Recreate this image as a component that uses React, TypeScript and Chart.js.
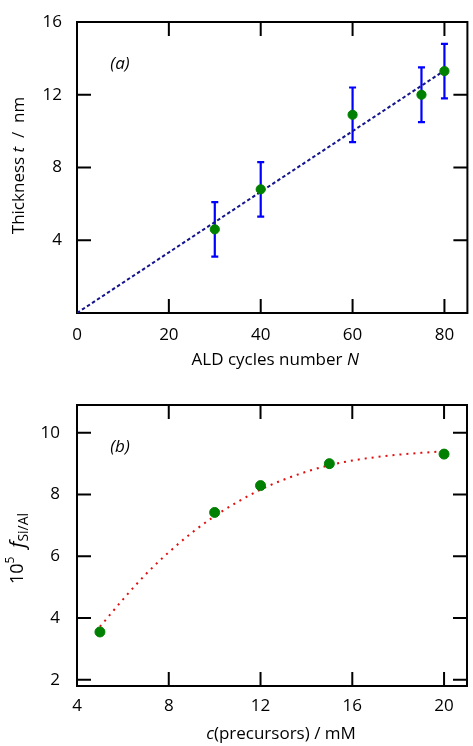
import { useEffect, useRef } from 'react';
import { Chart, registerables } from 'chart.js';

Chart.register(...registerables);

const FAMILY = '"Open Sans", "DejaVu Sans", sans-serif';

// ---------- Panel (a): thickness vs ALD cycles ----------
const cyclesN = [30, 40, 60, 75, 80];
const thickness = [4.6, 6.8, 10.9, 12.0, 13.3];
const thicknessErr = [1.5, 1.5, 1.5, 1.5, 1.5];
const fitAX = [0, 80];
const fitAY = [0, 13.33];
const ticksAX = [0, 20, 40, 60, 80];
const ticksAY = [4, 8, 12, 16];

// ---------- Panel (b): f(Si/Al) vs precursor concentration ----------
const conc = [5, 10, 12, 15, 20];
const ratio = [3.55, 7.42, 8.29, 9.0, 9.31];
const fitBX = [5, 6, 7, 8, 9, 10, 11, 12, 13, 14, 15, 16, 17, 18, 19, 20];
const fitBY = [3.72, 4.6, 5.42, 6.13, 6.76, 7.3, 7.76, 8.16, 8.48, 8.74, 8.95, 9.1, 9.21, 9.29, 9.35, 9.4];
const ticksBX = [4, 8, 12, 16, 20];
const ticksBY = [2, 4, 6, 8, 10];

type Seg = { t: string; italic?: boolean; size?: number; dy?: number };

function drawRich(ctx: CanvasRenderingContext2D, segs: Seg[], cx: number, cy: number, rotate: boolean, base: number) {
  ctx.save();
  ctx.fillStyle = '#000';
  ctx.textBaseline = 'middle';
  ctx.textAlign = 'left';
  const fontFor = (s: Seg) => `${s.italic ? 'italic ' : ''}${s.size ?? base}px ${FAMILY}`;
  let total = 0;
  const widths = segs.map((s) => {
    ctx.font = fontFor(s);
    const w = ctx.measureText(s.t).width;
    total += w;
    return w;
  });
  ctx.translate(cx, cy);
  if (rotate) ctx.rotate(-Math.PI / 2);
  let x = -total / 2;
  segs.forEach((s, i) => {
    ctx.font = fontFor(s);
    ctx.fillText(s.t, x, s.dy ?? 0);
    x += widths[i];
  });
  ctx.restore();
}

function makeFramePlugin(
  xt: number[],
  yt: number[],
  xTitle: Seg[],
  yTitle: Seg[],
  tag: string,
  pos: { xOff: number; xShift: number; yX: number; yShift: number }
) {
  return {
    id: 'frame' + tag,
    beforeDatasetsDraw(chart: any) {
      const { ctx, chartArea: a, scales } = chart;
      ctx.save();
      ctx.strokeStyle = '#000';
      ctx.lineWidth = 2;
      ctx.strokeRect(a.left, a.top, a.right - a.left, a.bottom - a.top);
      const tl = 14;
      ctx.beginPath();
      xt.forEach((v) => {
        const px = scales.x.getPixelForValue(v);
        if (px <= a.left + 1 || px >= a.right - 1) return;
        ctx.moveTo(px, a.bottom);
        ctx.lineTo(px, a.bottom - tl);
        ctx.moveTo(px, a.top);
        ctx.lineTo(px, a.top + tl);
      });
      yt.forEach((v) => {
        const py = scales.y.getPixelForValue(v);
        if (py <= a.top + 1 || py >= a.bottom - 1) return;
        ctx.moveTo(a.left, py);
        ctx.lineTo(a.left + tl, py);
        ctx.moveTo(a.right, py);
        ctx.lineTo(a.right - tl, py);
      });
      ctx.stroke();
      ctx.restore();
    },
    afterDraw(chart: any) {
      const { ctx, chartArea: a } = chart;
      const cx = (a.left + a.right) / 2;
      drawRich(ctx, xTitle, cx + pos.xShift, a.bottom + pos.xOff, false, 17);
      drawRich(ctx, yTitle, pos.yX, (a.top + a.bottom) / 2 + pos.yShift, true, 17);
      drawRich(ctx, [{ t: tag, italic: true }], a.left + 43, a.top + 42, false, 17);
    },
  };
}

const errorBarPlugin = {
  id: 'errbars',
  beforeDatasetsDraw(chart: any) {
    const opts = chart.options.plugins.errbars;
    if (!opts) return;
    const { ctx, scales } = chart;
    ctx.save();
    ctx.strokeStyle = '#0000ff';
    ctx.lineWidth = 2.2;
    ctx.beginPath();
    opts.x.forEach((xv: number, i: number) => {
      const px = scales.x.getPixelForValue(xv);
      const top = scales.y.getPixelForValue(opts.y[i] + opts.err[i]);
      const bot = scales.y.getPixelForValue(opts.y[i] - opts.err[i]);
      ctx.moveTo(px, top);
      ctx.lineTo(px, bot);
      ctx.moveTo(px - 3.5, top);
      ctx.lineTo(px + 3.5, top);
      ctx.moveTo(px - 3.5, bot);
      ctx.lineTo(px + 3.5, bot);
    });
    ctx.stroke();
    ctx.restore();
  },
};

function scaleOpts(min: number, max: number, ticks: number[], isX: boolean, pad: number, size: number) {
  return {
    type: 'linear' as const,
    min,
    max,
    grid: { display: false, drawTicks: false },
    border: { display: false },
    ticks: {
      padding: pad,
      color: '#000',
      font: { family: FAMILY, size: 17 },
      maxRotation: 0,
      autoSkip: false,
    },
    afterBuildTicks: (s: any) => {
      s.ticks = ticks.map((v) => ({ value: v }));
    },
    afterFit: (s: any) => {
      if (isX) s.height = size;
      else s.width = size;
      s.paddingLeft = 0;
      s.paddingRight = 0;
      s.paddingTop = 0;
      s.paddingBottom = 0;
    },
  };
}

function PanelA() {
  const ref = useRef<HTMLCanvasElement>(null);
  useEffect(() => {
    const chart = new Chart(ref.current!, {
      type: 'scatter',
      data: {
        datasets: [
          {
            data: cyclesN.map((x, i) => ({ x, y: thickness[i] })),
            backgroundColor: '#008000',
            borderColor: '#008000',
            pointRadius: 4.6,
            showLine: false,
          },
          {
            data: fitAX.map((x, i) => ({ x, y: fitAY[i] })),
            showLine: true,
            borderColor: '#14148c',
            borderWidth: 2,
            borderDash: [3.5, 2.5],
            pointRadius: 0,
          },
        ],
      },
      options: {
        responsive: false,
        animation: false,
        layout: { padding: { left: 0, right: 1, top: 22, bottom: 0 } },
        plugins: {
          legend: { display: false },
          tooltip: { enabled: false },
          errbars: { x: cyclesN, y: thickness, err: thicknessErr },
        } as any,
        scales: {
          x: scaleOpts(0, 85, ticksAX, true, 12, 60),
          y: scaleOpts(0, 16, ticksAY, false, 15, 77),
        },
      },
      plugins: [
        errorBarPlugin,
        makeFramePlugin(
          ticksAX,
          ticksAY,
          [{ t: 'ALD cycles number ' }, { t: 'N', italic: true }],
          [{ t: 'Thickness ' }, { t: 't', italic: true }, { t: '  /  nm' }],
          '(a)',
          { xOff: 47, xShift: 3, yX: 19, yShift: -2 }
        ),
      ],
    });
    return () => chart.destroy();
  }, []);
  return <canvas ref={ref} width={473} height={373} style={{ display: 'block' }} />;
}

function PanelB() {
  const ref = useRef<HTMLCanvasElement>(null);
  useEffect(() => {
    const chart = new Chart(ref.current!, {
      type: 'scatter',
      data: {
        datasets: [
          {
            data: conc.map((x, i) => ({ x, y: ratio[i] })),
            backgroundColor: '#008000',
            borderColor: '#008000',
            pointRadius: 5,
            showLine: false,
          },
          {
            data: fitBX.map((x, i) => ({ x, y: fitBY[i] })),
            showLine: true,
            borderColor: '#e01010',
            borderWidth: 2,
            borderDash: [2, 5],
            tension: 0.4,
            cubicInterpolationMode: 'monotone',
            pointRadius: 0,
          },
        ],
      },
      options: {
        responsive: false,
        animation: false,
        layout: { padding: { left: 0, right: 1, top: 32, bottom: 0 } },
        plugins: {
          legend: { display: false },
          tooltip: { enabled: false },
        },
        scales: {
          x: scaleOpts(4, 21, ticksBX, true, 10, 60),
          y: scaleOpts(1.8, 10.9, ticksBY, false, 17, 77),
        },
      },
      plugins: [
        makeFramePlugin(
          ticksBX,
          ticksBY,
          [{ t: 'c', italic: true }, { t: '(precursors) / mM' }],
          [
            { t: '10', size: 18 },
            { t: '5', size: 12, dy: -7 },
            { t: '  ' },
            { t: 'f', italic: true, size: 20 },
            { t: 'Si/Al', size: 14, dy: 6 },
          ],
          '(b)',
          { xOff: 48, xShift: 9, yX: 18, yShift: 3 }
        ),
      ],
    });
    return () => chart.destroy();
  }, []);
  return <canvas ref={ref} width={473} height={373} style={{ display: 'block' }} />;
}

export default function App() {
  return (
    <div style={{ position: 'absolute', left: 0, top: 0, width: 473, height: 746, background: '#fff' }}>
      <PanelA />
      <PanelB />
    </div>
  );
}
